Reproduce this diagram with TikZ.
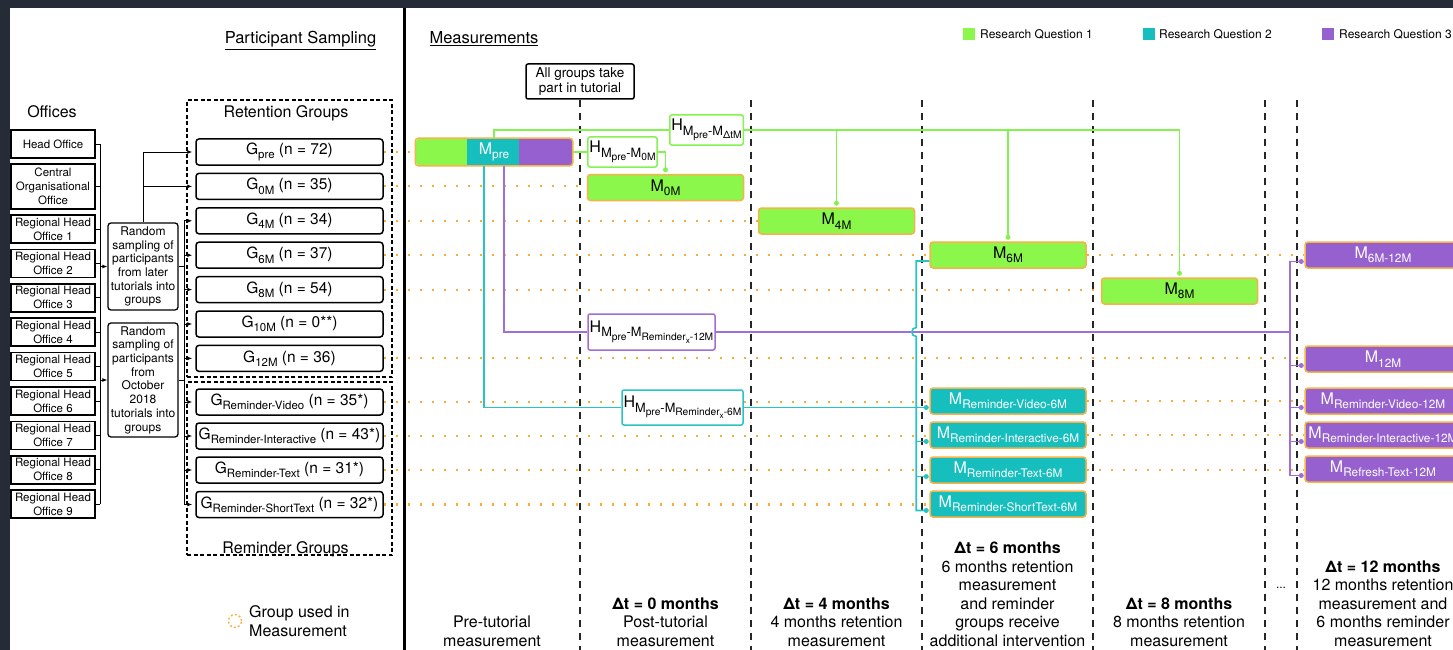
\documentclass[tikz,border=0pt]{standalone}
\usepackage{fontspec}
\setmainfont{TeX Gyre Heros}
\usepackage{graphicx}
\usetikzlibrary{arrows.meta,calc}

\definecolor{bgdark}{RGB}{37,44,55}
\definecolor{rqgreen}{RGB}{138,247,74}
\definecolor{rqteal}{RGB}{22,190,190}
\definecolor{rqpurple}{RGB}{150,97,207}
\definecolor{grporange}{RGB}{247,178,72}
\definecolor{dotorange}{RGB}{250,172,56}
\definecolor{lineteal}{RGB}{40,196,196}
\definecolor{linepurple}{RGB}{160,110,215}
\definecolor{linegreen}{RGB}{132,242,80}

\newcommand\fsz[2]{\fontsize{#1}{#2}\selectfont}
\newcommand\sbx[2][0.74]{\raisebox{-0.28em}{\scalebox{#1}{#2}}}
\newcommand\hsb[1]{\sbx[0.8]{#1}}

\begin{document}
\begin{tikzpicture}[x=1pt, y=-1pt,
  office/.style={draw=black, line width=1.5pt, minimum width=84pt, minimum height=28pt,
    inner sep=0pt, align=center, font=\fsz{11.5}{14}},
  sampbox/.style={draw=black, line width=1.3pt, rounded corners=3pt, minimum width=70pt,
    inner sep=0pt, align=center, font=\fsz{12}{13.7}},
  grpbox/.style={draw=black, line width=1.5pt, rounded corners=3pt, minimum width=187pt,
    minimum height=26pt, inner sep=0pt, font=\fsz{15.5}{18}},
  groupframe/.style={draw=black, line width=1.4pt, dash pattern=on 4pt off 2.5pt,
    minimum width=205pt, inner sep=0pt},
  meas/.style={draw=grporange, line width=1.5pt, rounded corners=3pt, minimum width=156pt,
    minimum height=26pt, inner sep=0pt, font=\fsz{16}{18}},
  measG/.style={meas, fill=rqgreen, text=black},
  measT/.style={meas, fill=rqteal, text=white},
  measP/.style={meas, fill=rqpurple, text=white},
  hyp/.style={fill=white, line width=1.5pt, rounded corners=2pt, inner xsep=1.5pt,
    inner ysep=0pt, font=\fsz{16}{18}},
  timeline/.style={draw=black!85, line width=2.2pt, dash pattern=on 7pt off 6pt},
  grpline/.style={draw=dotorange, line width=2.1pt, dash pattern=on 2.2pt off 9.8pt},
  link/.style={draw=black, line width=0.9pt},
  arr/.style={link, -{Latex[length=5pt,width=4pt]}, shorten >=3pt},
  gconn/.style={draw=linegreen, line width=1.6pt},
  tconn/.style={draw=lineteal, line width=1.6pt},
  pconn/.style={draw=linepurple, line width=1.6pt},
  joint/.style={circle, fill=#1, minimum size=5pt, inner sep=0pt},
  colnote/.style={align=center, anchor=north, inner sep=0pt, font=\fsz{16}{18.5}},
  legsq/.style={minimum size=12pt, inner sep=0pt},
  legtxt/.style={anchor=base west, inner sep=0pt, font=\fsz{12}{14}},
  title/.style={anchor=base, inner sep=0pt, font=\fsz{16.5}{19}},
]
\useasboundingbox (0,0) rectangle (1453,650);
\clip (0,0) rectangle (1453,650);

% page and frame
\fill[bgdark] (0,0) rectangle (1453,650);
\fill[white] (10,8) rectangle (1453,650);
\draw[line width=3pt] (404,8) -- (404,650);

% headings
\node[title] (tsamp) at (300.5,44) {\underline{Participant Sampling}};
\node[title] (tmeas) at (484,44) {\underline{Measurements}};
\node[title, font=\fsz{16}{19}] (toff) at (52,118) {Offices};

% legend
\node[legsq, fill=rqgreen] (lq1) at (968.5,34.5) {};
\node[legtxt] (lt1) at (980,39) {Research Question 1};
\node[legsq, fill=rqteal] (lq2) at (1148.5,34.5) {};
\node[legtxt] (lt2) at (1159,39) {Research Question 2};
\node[legsq, fill=rqpurple] (lq3) at (1328,34.5) {};
\node[legtxt] (lt3) at (1339,39) {Research Question 3};

% time lines
\foreach \tx in {580,751,922,1093,1265,1297}
  \draw[timeline] (\tx,100) -- (\tx,650);

\node[draw=black, line width=1.5pt, rounded corners=2pt, minimum width=108pt, minimum height=35pt,
  inner sep=0pt, fill=white, align=center, font=\fsz{13.5}{15.3}] (tut) at (580,81.5)
  {All groups take\\part in tutorial};

% offices
\node[office] (ho) at (53,144) {Head Office};
\node[office, minimum height=45pt] (co) at (53,186.5) {Central\\Organisational\\Office};
\foreach \i/\yy in {1/229,2/263.4,3/297.8,4/332.2,5/366.6,6/401,7/435.4,8/469.8,9/504.2}
  \node[office] (r\i) at (53,\yy) {Regional Head\\Office \i};

% sampling boxes
\node[sampbox, minimum height=87pt] (rs1) at (143,266.5)
  {Random\\sampling of\\participants\\from later\\tutorials into\\groups};
\node[sampbox, minimum height=114pt] (rs2) at (143,380)
  {Random\\sampling of\\participants\\from\\October\\2018\\tutorials into\\groups};

% group frames
\node[groupframe, minimum height=277pt] (retframe) at (289.5,238.5) {};
\node[groupframe, minimum height=173pt] (remframe) at (289.5,468.5) {};
\node[title, font=\fsz{16}{19}] (retlab) at (286,118) {Retention Groups};
\node[title, font=\fsz{16}{19}] (remlab) at (285.5,553) {Reminder Groups};

% groups
\node[grpbox] (gpre) at (289.5,152) {G\sbx{pre} (n = 72)};
\node[grpbox] (g0m) at (289.5,186.4) {G\sbx{0M} (n = 35)};
\node[grpbox] (g4m) at (289.5,220.8) {G\sbx{4M} (n = 34)};
\node[grpbox] (g6m) at (289.5,255.2) {G\sbx{6M} (n = 37)};
\node[grpbox] (g8m) at (289.5,289.6) {G\sbx{8M} (n = 54)};
\node[grpbox] (g10m) at (289.5,324) {G\sbx{10M} (n = 0**)};
\node[grpbox] (g12m) at (289.5,358.4) {G\sbx{12M} (n = 36)};
\node[grpbox] (grv) at (289.5,402) {G\sbx{Reminder-Video} (n = 35*)};
\node[grpbox] (gri) at (289.5,436) {G\sbx{Reminder-Interactive} (n = 43*)};
\node[grpbox] (grt) at (289.5,470) {G\sbx{Reminder-Text} (n = 31*)};
\node[grpbox] (grs) at (289.5,504.5) {G\sbx{Reminder-ShortText} (n = 32*)};

% office links into the sampling boxes
\coordinate (otrunk) at (100,144);
\foreach \o in {ho,co,r1,r2,r3,r4,r5,r6,r7,r8,r9}
  \draw[link] (\o.east) -- (\o.east -| otrunk);
\draw[link] (otrunk) -- (otrunk |- r9.east);
\draw[arr, shorten >=0pt] (rs1.west -| otrunk) -- (rs1.west);
\draw[arr, shorten >=0pt] (rs2.west -| otrunk) -- (rs2.west);

% sampling boxes into the groups
\draw[arr] (rs1.north) |- (gpre.west);
\draw[arr] (rs1.north |- g0m.west) -- (g0m.west);
\coordinate (gtrunk) at (184,0);
\draw[link] (rs1.east) -- (rs1.east -| gtrunk);
\draw[link] (rs2.east) -- (rs2.east -| gtrunk);
\draw[link] (g4m.west -| gtrunk) -- (grs.west -| gtrunk);
\foreach \g in {g4m,g6m,g8m,g10m,g12m,grv,gri,grt,grs}
  \draw[arr] (\g.west -| gtrunk) -- (\g.west);

% measurements
\node[meas, draw=none, fill=rqgreen] (mpre) at (494,152) {};
\fill[rqpurple, rounded corners=3pt] ([xshift=100pt]mpre.south west) rectangle (mpre.north east);
\fill[rqteal] ([xshift=52pt]mpre.south west) rectangle ([xshift=104pt]mpre.north west);
\draw[grporange, line width=1.5pt, rounded corners=3pt] (mpre.south west) rectangle (mpre.north east);
\node[inner sep=0pt, text=white, font=\fsz{16}{18}] (mpretxt) at (mpre.center) {M\sbx{pre}};

\node[measG] (m0m) at (665.5,187.5) {M\sbx{0M}};
\node[measG] (m4m) at (836.5,221) {M\sbx{4M}};
\node[measG] (m6m) at (1008,255) {M\sbx{6M}};
\node[measG] (m8m) at (1179.5,291) {M\sbx{8M}};

\node[measT] (mrv6) at (1008,401) {M\sbx{Reminder-Video-6M}};
\node[measT] (mri6) at (1008,435) {M\sbx{Reminder-Interactive-6M}};
\node[measT] (mrt6) at (1008,470) {M\sbx{Reminder-Text-6M}};
\node[measT] (mrs6) at (1008,504) {M\sbx{Reminder-ShortText-6M}};

\node[measP] (m612) at (1383,255) {M\sbx{6M-12M}};
\node[measP] (m12) at (1383,359) {M\sbx{12M}};
\node[measP] (mrv12) at (1383,401) {M\sbx{Reminder-Video-12M}};
\node[measP] (mri12) at (1383,435) {M\sbx{Reminder-Interactive-12M}};
\node[measP] (mrt12) at (1383,469) {M\sbx{Refresh-Text-12M}};

% groups used in each measurement
\draw[grpline] (gpre.east) -- (gpre.east -| mpre.west);
\draw[grpline] (g0m.east) -- (g0m.east -| m0m.west);
\draw[grpline] (g4m.east) -- (g4m.east -| m4m.west);
\draw[grpline] (g6m.east) -- (g6m.east -| m6m.west);
\draw[grpline] (m6m.east) -- (m6m.east -| m612.west);
\draw[grpline] (g8m.east) -- (g8m.east -| m8m.west);
\draw[grpline] (g12m.east) -- (g12m.east -| m12.west);
\draw[grpline] (grv.east) -- (grv.east -| mrv6.west);
\draw[grpline] (mrv6.east) -- (mrv6.east -| mrv12.west);
\draw[grpline] (gri.east) -- (gri.east -| mri6.west);
\draw[grpline] (mri6.east) -- (mri6.east -| mri12.west);
\draw[grpline] (grt.east) -- (grt.east -| mrt6.west);
\draw[grpline] (mrt6.east) -- (mrt6.east -| mrt12.west);
\draw[grpline] (grs.east) -- (grs.east -| mrs6.west);

% hypotheses
\node[hyp, draw=linegreen, minimum width=73pt, minimum height=30pt] (hdt) at (706.5,130)
  {H\hsb{M\hsb{pre}-M\hsb{ΔtM}}};
\node[hyp, draw=linegreen, minimum width=69pt, minimum height=30pt] (h0m) at (622.5,152)
  {H\hsb{M\hsb{pre}-M\hsb{0M}}};
\node[hyp, draw=linepurple, minimum width=127pt, minimum height=36pt] (h12) at (651.5,332)
  {H\hsb{M\hsb{pre}-M\hsb{Reminder\hsb{x}-12M}}};
\node[hyp, draw=lineteal, minimum width=121pt, minimum height=35pt] (h6) at (682.5,407.5)
  {H\hsb{M\hsb{pre}-M\hsb{Reminder\hsb{x}-6M}}};

% research question 1
\coordinate (gd0) at ([yshift=4pt]m0m.north);
\coordinate (gd4) at ([yshift=4pt]m4m.north);
\coordinate (gd6) at ([yshift=4pt]m6m.north);
\coordinate (gd8) at ([yshift=4pt]m8m.north);
\draw[gconn] (mpre.north) |- (hdt.west);
\draw[gconn] (hdt.east) -| (gd8);
\draw[gconn] (gd4) -- (gd4 |- hdt.east);
\draw[gconn] (gd6) -- (gd6 |- hdt.east);
\draw[gconn] (mpre.east) -- (h0m.west);
\draw[gconn] (h0m.east) -| (gd0);
\node[joint=linegreen] (jg0) at (gd0) {};
\node[joint=linegreen] (jg4) at (gd4) {};
\node[joint=linegreen] (jg6) at (gd6) {};
\node[joint=linegreen] (jg8) at (gd8) {};

% research question 3
\coordinate (pdn) at ([xshift=10pt]mpre.south);
\coordinate (pd612) at ([xshift=-3pt,yshift=-6.5pt]m612.west);
\coordinate (pd12) at ([xshift=-3pt,yshift=-6.5pt]m12.west);
\coordinate (pdrv) at ([xshift=-3pt,yshift=-6.5pt]mrv12.west);
\coordinate (pdri) at ([xshift=-3pt,yshift=-6.5pt]mri12.west);
\coordinate (pdrt) at ([xshift=-3pt,yshift=-6.5pt]mrt12.west);
\coordinate (ptop) at ([xshift=-11pt]pd612);
\draw[pconn] (pdn) |- (h12.west);
\draw[pconn] (h12.east) -- (h12.east -| ptop);
\draw[pconn] (pd612) -- (ptop) -- (ptop |- pdrt) -- (pdrt);
\foreach \p in {pd12,pdrv,pdri}
  \draw[pconn] (ptop |- \p) -- (\p);
\foreach \p in {pd612,pd12,pdrv,pdri,pdrt}
  \node[joint=linepurple] (j\p) at (\p) {};

% research question 2
\coordinate (tdn) at ([xshift=-10pt]mpre.south);
\coordinate (tm6) at ([yshift=-6pt]m6m.west);
\coordinate (tdrv) at ([xshift=-3pt,yshift=-6.5pt]mrv6.west);
\coordinate (tdri) at ([xshift=-3pt,yshift=-6.5pt]mri6.west);
\coordinate (tdrt) at ([xshift=-3pt,yshift=-6.5pt]mrt6.west);
\coordinate (tdrs) at ([xshift=-3pt,yshift=-6.5pt]mrs6.west);
\coordinate (ttop) at ([xshift=-13pt]tm6);
\coordinate (tjump) at (ttop |- h12.east);
\draw[tconn] (tdn) |- (h6.west);
\draw[tconn] (h6.east) -- (h6.east -| tdrv);
\draw[tconn] (tm6) -- (ttop) -- ([yshift=4.5pt]tjump)
  arc[start angle=90, end angle=270, radius=4.5pt] -- (ttop |- tdrs) -- (tdrs);
\foreach \p in {tdri,tdrt}
  \draw[tconn] (ttop |- \p) -- (\p);
\foreach \p in {tdrv,tdri,tdrt,tdrs}
  \node[joint=lineteal] (j\p) at (\p) {};

% column notes
\node[colnote] (cpre) at (492,615.8) {Pre-tutorial\\measurement};
\node[colnote] (c0) at (665.5,597.3) {\textbf{Δt = 0 months}\\Post-tutorial\\measurement};
\node[colnote] (c4) at (836.5,597.3) {\textbf{Δt = 4 months}\\4 months retention\\measurement};
\node[colnote] (c6) at (1007.5,541.8) {\textbf{Δt = 6 months}\\6 months retention\\measurement\\and reminder\\groups receive\\additional intervention};
\node[colnote] (c8) at (1179,597.3) {\textbf{Δt = 8 months}\\8 months retention\\measurement};
\node[inner sep=0pt, font=\fsz{12}{14}] (cdots) at (1281,588) {...};
\node[colnote] (c12) at (1383,560.3) {\textbf{Δt = 12 months}\\12 months retention\\measurement and\\6 months reminder\\measurement};

% legend for the group lines
\node[circle, draw=dotorange, line width=1.4pt, dash pattern=on 1.8pt off 2.4pt,
  minimum size=13pt, inner sep=0pt] (lgc) at (235,621) {};
\node[anchor=west, align=left, inner sep=0pt, font=\fsz{16}{19}] (lgt) at (249,621.5)
  {Group used in\\Measurement};
\end{tikzpicture}
\end{document}
